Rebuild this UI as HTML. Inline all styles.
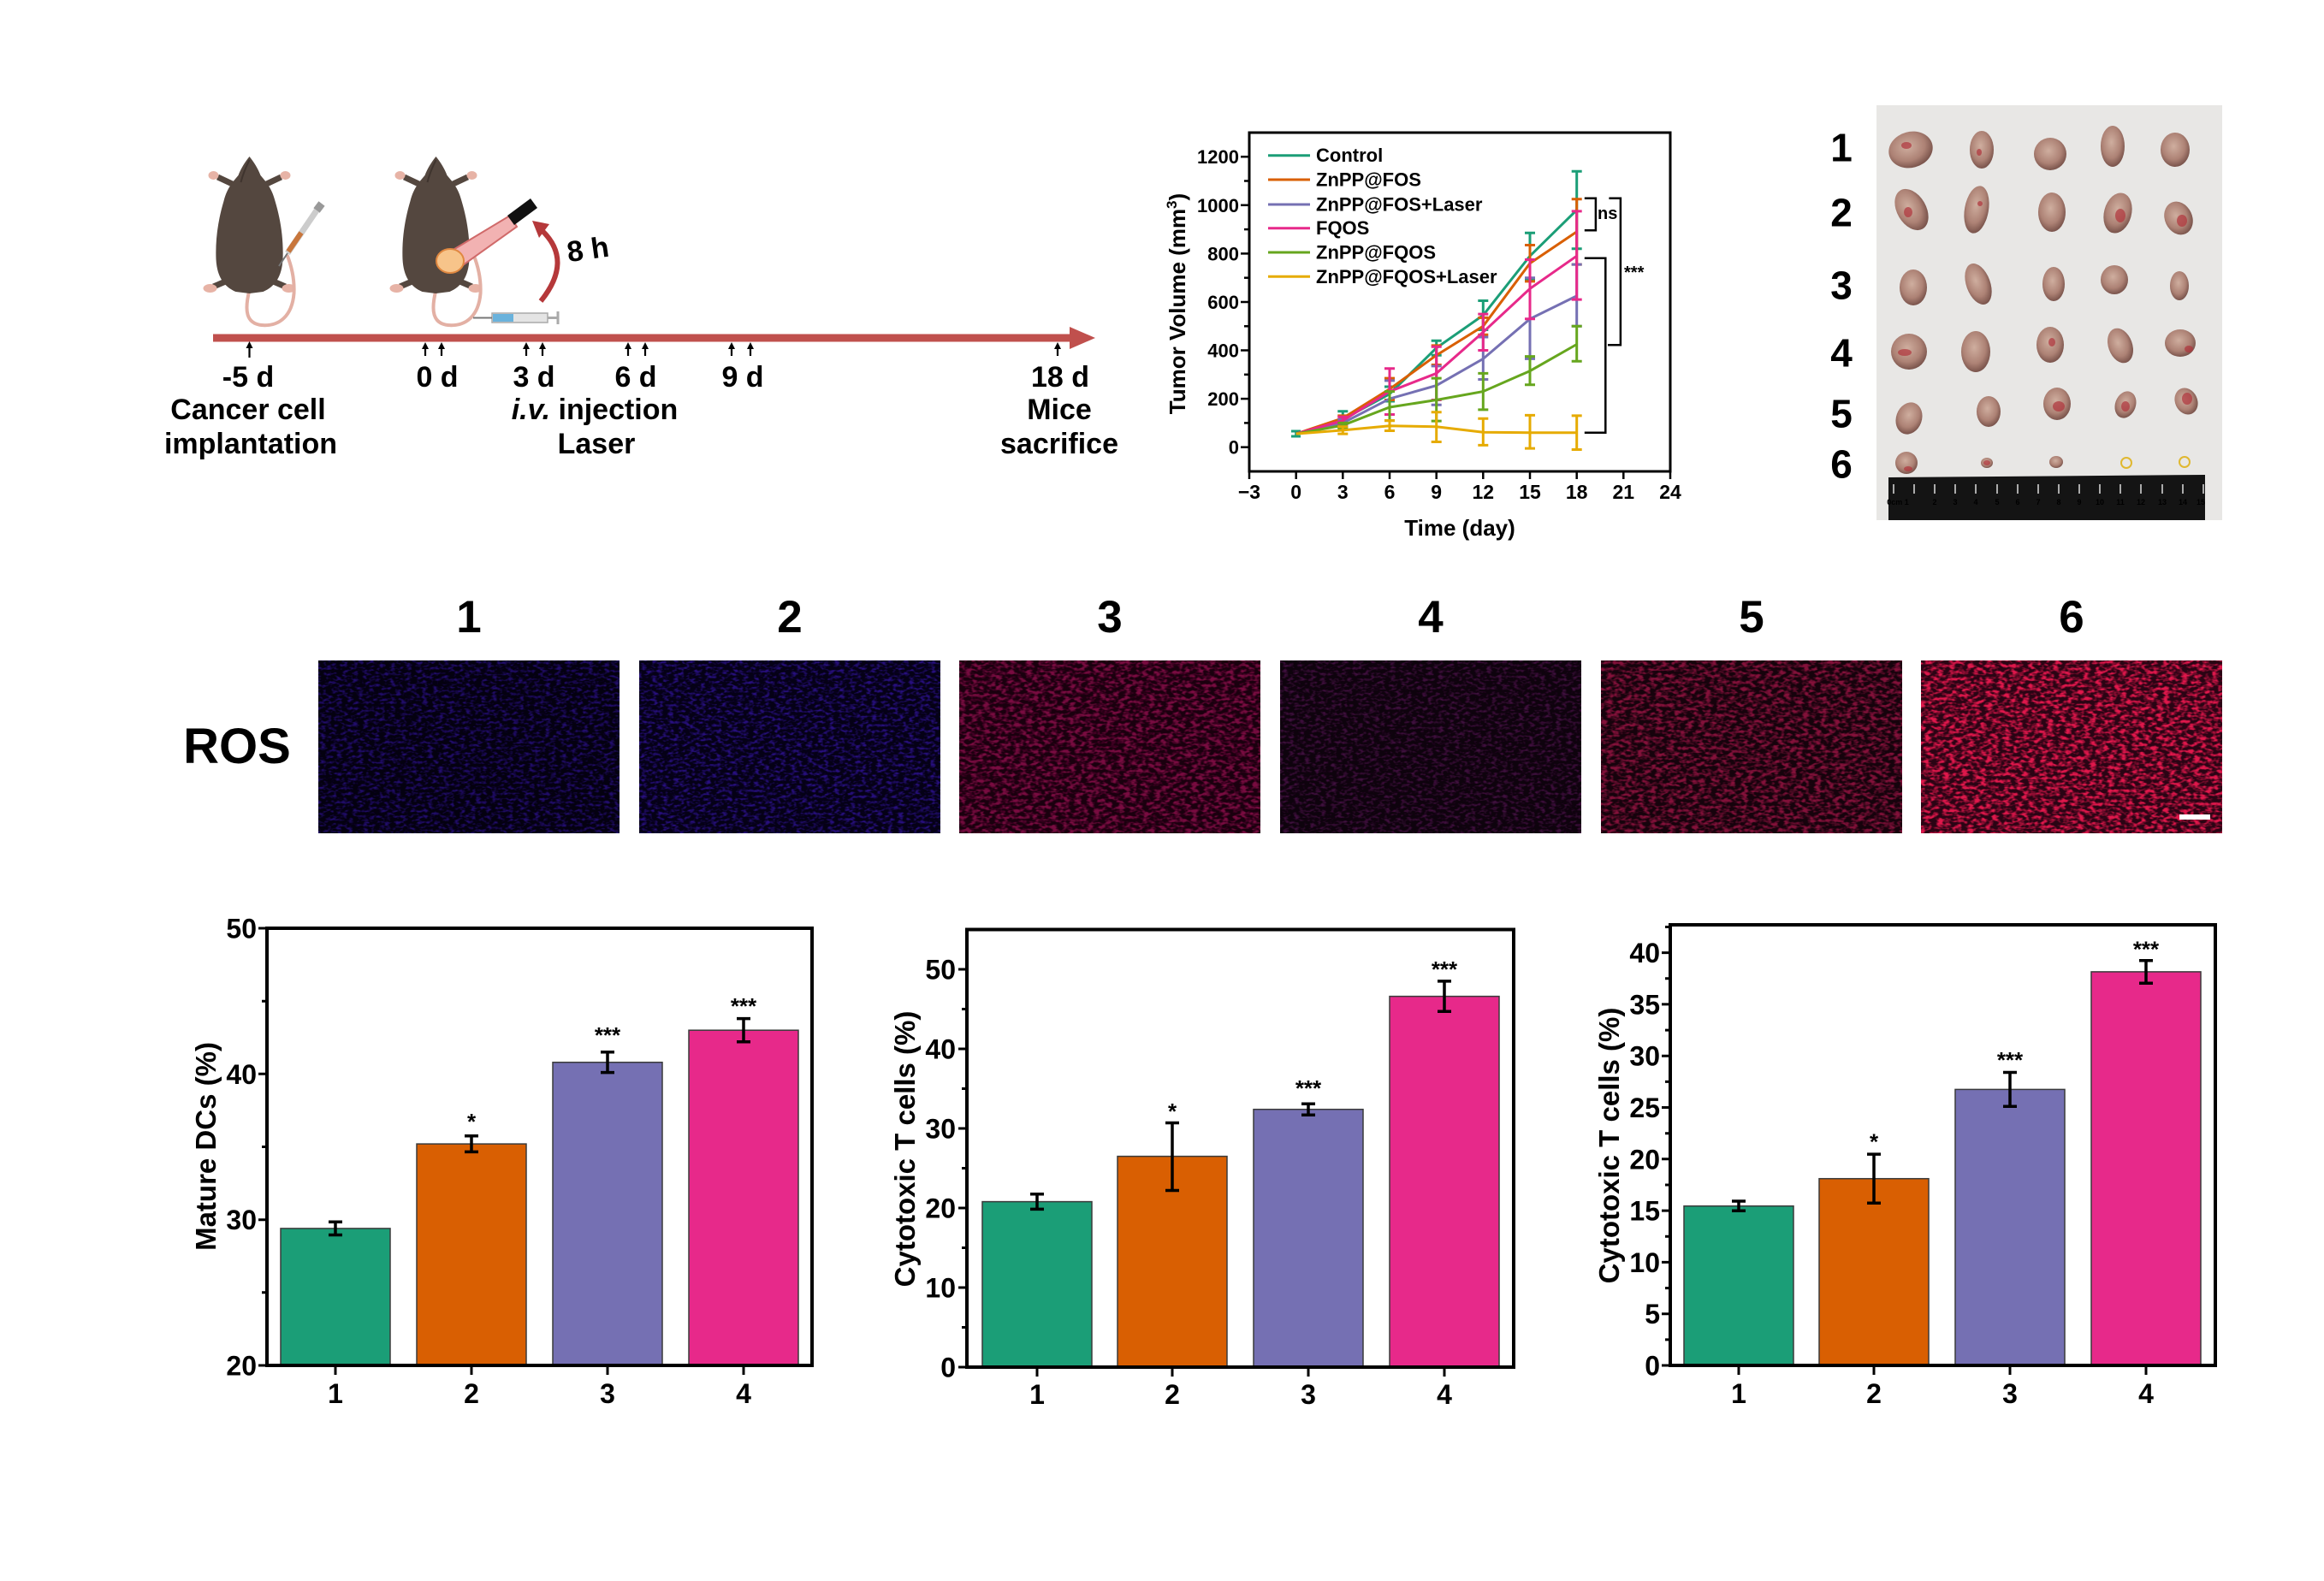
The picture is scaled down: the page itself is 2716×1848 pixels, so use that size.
<!DOCTYPE html>
<html><head><meta charset="utf-8"><style>
html,body{margin:0;padding:0;background:#fff;}
svg{display:block;}
text{font-family:"Liberation Sans",Arial,sans-serif;font-weight:bold;fill:#000;}
</style></head><body>
<svg width="2716" height="1848" viewBox="0 0 2716 1848" xmlns="http://www.w3.org/2000/svg">
<defs>
<filter id="sp" x="0" y="0" width="100%" height="100%">
<feTurbulence type="fractalNoise" baseFrequency="0.16 0.3" numOctaves="2" seed="7" result="t"/>
<feColorMatrix in="t" type="matrix" values="0 0 0 0 1 0 0 0 0 1 0 0 0 0 1 0 0 0 3.2 -1.45" result="a"/>
<feComposite in="SourceGraphic" in2="a" operator="in"/>
</filter>
<filter id="sp2" x="0" y="0" width="100%" height="100%">
<feTurbulence type="fractalNoise" baseFrequency="0.14 0.26" numOctaves="2" seed="11" result="t"/>
<feColorMatrix in="t" type="matrix" values="0 0 0 0 1 0 0 0 0 1 0 0 0 0 1 0 0 0 3.4 -1.4" result="a"/>
<feComposite in="SourceGraphic" in2="a" operator="in"/>
</filter>
<radialGradient id="tg" cx="45%" cy="40%" r="65%">
<stop offset="0" stop-color="#cfae9f"/><stop offset="0.6" stop-color="#ad8275"/><stop offset="1" stop-color="#6e4942"/>
</radialGradient>
<g id="mouse">
<path d="M-20,32 L-37,24 M20,32 L37,24 M-28,146 L-42,152 M28,146 L42,152" stroke="#54473f" stroke-width="7" fill="none"/>
<ellipse cx="-42" cy="22" rx="6" ry="5" fill="#e7b3a6"/>
<ellipse cx="42" cy="22" rx="6" ry="5" fill="#e7b3a6"/>
<ellipse cx="-46" cy="154" rx="8" ry="5" fill="#e7b3a6"/>
<ellipse cx="46" cy="154" rx="8" ry="5" fill="#e7b3a6"/>
<path d="M0,156 C-6,180 -4,195 14,197 C36,199 50,185 52,160 C53,140 48,125 44,115" stroke="#e3b0a4" stroke-width="4" fill="none"/>
<path d="M0,0 C-5,6 -10,14 -13,22 C-18,28 -26,36 -30,52 C-36,72 -40,95 -39,120 C-38,140 -30,152 -16,158 L0,160 L16,158 C30,152 38,140 39,120 C40,95 36,72 30,52 C26,36 18,28 13,22 C10,14 5,6 0,0 Z" fill="#54473f"/>
<path d="M0,4 C-4,12 -8,22 -10,30" stroke="#3f342e" stroke-width="2" fill="none"/>
</g>
</defs>
<rect width="2716" height="1848" fill="#fff"/>

<!-- ===== Timeline ===== -->
<use href="#mouse" x="291.5" y="183"/>
<use href="#mouse" x="509.5" y="183"/>
<line x1="376" y1="238" x2="370" y2="246" stroke="#999" stroke-width="9"/>
<line x1="370" y1="246" x2="336" y2="296" stroke="#ccc" stroke-width="7"/>
<line x1="352" y1="272" x2="337" y2="294" stroke="#c8763c" stroke-width="6"/>
<line x1="336" y1="296" x2="326" y2="311" stroke="#777" stroke-width="2"/>
<polygon points="596,252 604,265 534,315 518,299" fill="#f2b2b2" stroke="#d06a6a" stroke-width="2"/>
<polygon points="593,252 620,232 628,243 601,263" fill="#111"/>
<ellipse cx="526" cy="305" rx="16" ry="14" fill="#f7c48a" stroke="#e08840" stroke-width="2"/>
<path d="M632,352 Q670,305 634,270" stroke="#b5383a" stroke-width="6" fill="none"/>
<polygon points="622,258 642,262 630,278" fill="#b5383a"/>
<text x="687" y="303" font-size="34" text-anchor="middle" transform="rotate(-8 687 291)">8 h</text>
<rect x="575" y="366" width="65" height="11" fill="#e4e4e4" stroke="#aaa" stroke-width="1.5"/>
<rect x="576" y="367" width="24" height="9" fill="#6ab2dc"/>
<line x1="575" y1="371.5" x2="553" y2="371.5" stroke="#777" stroke-width="2"/>
<line x1="640" y1="371.5" x2="652" y2="371.5" stroke="#aaa" stroke-width="3"/>
<line x1="652" y1="364" x2="652" y2="379" stroke="#aaa" stroke-width="3"/>
<line x1="249" y1="395" x2="1254" y2="395" stroke="#c0504d" stroke-width="9"/>
<polygon points="1250,382 1280,395 1250,408" fill="#c0504d"/>
<g stroke="#000" stroke-width="2.2">
<line x1="291.5" y1="418" x2="291.5" y2="405"/>
<line x1="497" y1="416" x2="497" y2="406"/><line x1="516" y1="416" x2="516" y2="406"/>
<line x1="615" y1="416" x2="615" y2="406"/><line x1="634" y1="416" x2="634" y2="406"/>
<line x1="734" y1="416" x2="734" y2="406"/><line x1="754" y1="416" x2="754" y2="406"/>
<line x1="855" y1="416" x2="855" y2="406"/><line x1="877" y1="416" x2="877" y2="406"/>
<line x1="1236" y1="416" x2="1236" y2="406"/>
</g>
<g fill="#000">
<polygon points="287.5,407 291.5,399 295.5,407"/>
<polygon points="493,408 497,400 501,408"/><polygon points="512,408 516,400 520,408"/>
<polygon points="611,408 615,400 619,408"/><polygon points="630,408 634,400 638,408"/>
<polygon points="730,408 734,400 738,408"/><polygon points="750,408 754,400 758,408"/>
<polygon points="851,408 855,400 859,408"/><polygon points="873,408 877,400 881,408"/>
<polygon points="1232,408 1236,400 1240,408"/>
</g>
<g font-size="34" text-anchor="middle">
<text x="290" y="452">-5 d</text>
<text x="511" y="452">0 d</text>
<text x="624" y="452">3 d</text>
<text x="743" y="452">6 d</text>
<text x="868" y="452">9 d</text>
<text x="1239" y="452">18 d</text>
<text x="290" y="490">Cancer cell</text>
<text x="293" y="530">implantation</text>
<text x="695" y="490"><tspan font-style="italic">i.v.</tspan> injection</text>
<text x="697" y="530">Laser</text>
<text x="1238" y="490">Mice</text>
<text x="1238" y="530">sacrifice</text>
</g>

<!-- ===== Line chart ===== -->
<rect x="1460" y="155" width="492" height="396" fill="none" stroke="#000" stroke-width="3"/>
<g stroke="#000" stroke-width="2.5">
<line x1="1450" y1="522.7" x2="1460" y2="522.7"/><line x1="1450" y1="466.1" x2="1460" y2="466.1"/>
<line x1="1450" y1="409.5" x2="1460" y2="409.5"/><line x1="1450" y1="353" x2="1460" y2="353"/>
<line x1="1450" y1="296.4" x2="1460" y2="296.4"/><line x1="1450" y1="239.8" x2="1460" y2="239.8"/>
<line x1="1450" y1="183.2" x2="1460" y2="183.2"/>
<line x1="1454" y1="494.4" x2="1460" y2="494.4"/><line x1="1454" y1="437.8" x2="1460" y2="437.8"/>
<line x1="1454" y1="381.3" x2="1460" y2="381.3"/><line x1="1454" y1="324.7" x2="1460" y2="324.7"/>
<line x1="1454" y1="268.1" x2="1460" y2="268.1"/><line x1="1454" y1="211.5" x2="1460" y2="211.5"/>
<line x1="1460" y1="551" x2="1460" y2="560"/><line x1="1514.7" y1="551" x2="1514.7" y2="560"/>
<line x1="1569.3" y1="551" x2="1569.3" y2="560"/><line x1="1624" y1="551" x2="1624" y2="560"/>
<line x1="1678.7" y1="551" x2="1678.7" y2="560"/><line x1="1733.3" y1="551" x2="1733.3" y2="560"/>
<line x1="1788" y1="551" x2="1788" y2="560"/><line x1="1842.7" y1="551" x2="1842.7" y2="560"/>
<line x1="1897.3" y1="551" x2="1897.3" y2="560"/><line x1="1952" y1="551" x2="1952" y2="560"/>
</g>
<g font-size="22" text-anchor="end">
<text x="1448" y="191.2">1200</text><text x="1448" y="247.8">1000</text>
<text x="1448" y="304.4">800</text><text x="1448" y="361">600</text>
<text x="1448" y="417.5">400</text><text x="1448" y="474.1">200</text>
<text x="1448" y="530.7">0</text>
</g>
<g font-size="23" text-anchor="middle">
<text x="1460" y="583">−3</text><text x="1514.7" y="583">0</text><text x="1569.3" y="583">3</text>
<text x="1624" y="583">6</text><text x="1678.7" y="583">9</text><text x="1733.3" y="583">12</text>
<text x="1788" y="583">15</text><text x="1842.7" y="583">18</text><text x="1897.3" y="583">21</text>
<text x="1952" y="583">24</text>
</g>
<text x="1706" y="626" font-size="26" text-anchor="middle">Time (day)</text>
<text transform="translate(1385,355) rotate(-90)" font-size="26" text-anchor="middle">Tumor Volume (mm<tspan font-size="17" dy="-10">3</tspan><tspan dy="10">)</tspan></text>

<g fill="none" stroke-width="3">
<g stroke="#1b9e77">
<polyline points="1514.7,507.1 1569.3,490.2 1624,460.5 1678.7,406.7 1733.3,368.5 1788,299.2 1842.7,245.5"/>
<path d="M1514.7,504V510M1509,504H1520M1509,510H1520 M1569.3,480.8V499.5M1563.3,480.8H1575.3M1563.3,499.5H1575.3 M1624,452V469M1618,452H1630M1618,469H1630 M1678.7,398.2V415.2M1672.7,398.2H1684.7M1672.7,415.2H1684.7 M1733.3,351.5V385.5M1727.3,351.5H1739.3M1727.3,385.5H1739.3 M1788,272.3V326.1M1782,272.3H1794M1782,326.1H1794 M1842.7,200.2V290.7M1836.7,200.2H1848.7M1836.7,290.7H1848.7"/>
</g>
<g stroke="#d95f02">
<polyline points="1514.7,507.1 1569.3,488.8 1624,454.8 1678.7,415.2 1733.3,381.3 1788,307.7 1842.7,270.9"/>
<path d="M1569.3,485.9V491.6M1563.3,485.9H1575.3M1563.3,491.6H1575.3 M1624,442.1V467.5M1618,442.1H1630M1618,467.5H1630 M1678.7,403.9V426.5M1672.7,403.9H1684.7M1672.7,426.5H1684.7 M1733.3,371.4V391.2M1727.3,371.4H1739.3M1727.3,391.2H1739.3 M1788,286.5V328.9M1782,286.5H1794M1782,328.9H1794 M1842.7,232.7V309.1M1836.7,232.7H1848.7M1836.7,309.1H1848.7"/>
</g>
<g stroke="#7570b3">
<polyline points="1514.7,507.1 1569.3,494.4 1624,466.1 1678.7,450.6 1733.3,419.4 1788,372.8 1842.7,345.9"/>
<path d="M1569.3,490.2V497.8M1563.3,490.2H1575.3M1563.3,497.8H1575.3 M1624,444.9V484.5M1618,444.9H1630M1618,484.5H1630 M1678.7,427.9V473.2M1672.7,427.9H1684.7M1672.7,473.2H1684.7 M1733.3,394V443.5M1727.3,394H1739.3M1727.3,443.5H1739.3 M1788,324.7V419.4M1782,324.7H1794M1782,419.4H1794 M1842.7,309.1V381.3M1836.7,309.1H1848.7M1836.7,381.3H1848.7"/>
</g>
<g stroke="#e7298a">
<polyline points="1514.7,507.1 1569.3,491.6 1624,457.6 1678.7,436.4 1733.3,388.3 1788,337.4 1842.7,299.2"/>
<path d="M1569.3,487.3V495.8M1563.3,487.3H1575.3M1563.3,495.8H1575.3 M1624,430.8V484.5M1618,430.8H1630M1618,484.5H1630 M1678.7,405.3V467.5M1672.7,405.3H1684.7M1672.7,467.5H1684.7 M1733.3,367.1V409.5M1727.3,367.1H1739.3M1727.3,409.5H1739.3 M1788,303.5V372.8M1782,303.5H1794M1782,372.8H1794 M1842.7,246.9V350.1M1836.7,246.9H1848.7M1836.7,350.1H1848.7"/>
</g>
<g stroke="#66a61e">
<polyline points="1514.7,507.1 1569.3,497.2 1624,476 1678.7,467.5 1733.3,457.6 1788,433.6 1842.7,402.5"/>
<path d="M1569.3,494.4V500.6M1563.3,494.4H1575.3M1563.3,500.6H1575.3 M1624,457.6V491.6M1618,457.6H1630M1618,491.6H1630 M1678.7,442.1V492.1M1672.7,442.1H1684.7M1672.7,492.1H1684.7 M1733.3,436.4V478.9M1727.3,436.4H1739.3M1727.3,478.9H1739.3 M1788,416.6V449.7M1782,416.6H1794M1782,449.7H1794 M1842.7,381.3V422.3M1836.7,381.3H1848.7M1836.7,422.3H1848.7"/>
</g>
<g stroke="#e6ab02">
<polyline points="1514.7,507.1 1569.3,502.9 1624,497.8 1678.7,498.7 1733.3,505.2 1788,505.7 1842.7,505.7"/>
<path d="M1569.3,498.7V507.1M1563.3,498.7H1575.3M1563.3,507.1H1575.3 M1624,491.6V503.5M1618,491.6H1630M1618,503.5H1630 M1678.7,481.7V516.5M1672.7,481.7H1684.7M1672.7,516.5H1684.7 M1733.3,489.3V520.4M1727.3,489.3H1739.3M1727.3,520.4H1739.3 M1788,485.4V524.1M1782,485.4H1794M1782,524.1H1794 M1842.7,485.9V525.5M1836.7,485.9H1848.7M1836.7,525.5H1848.7"/>
</g>
</g>
<g stroke-width="3">
<line x1="1482" y1="181.7" x2="1531" y2="181.7" stroke="#1b9e77"/>
<line x1="1482" y1="210" x2="1531" y2="210" stroke="#d95f02"/>
<line x1="1482" y1="239" x2="1531" y2="239" stroke="#7570b3"/>
<line x1="1482" y1="266.7" x2="1531" y2="266.7" stroke="#e7298a"/>
<line x1="1482" y1="295" x2="1531" y2="295" stroke="#66a61e"/>
<line x1="1482" y1="323.3" x2="1531" y2="323.3" stroke="#e6ab02"/>
</g>
<g font-size="22">
<text x="1538" y="189.2">Control</text>
<text x="1538" y="217.5">ZnPP@FOS</text>
<text x="1538" y="246.5">ZnPP@FOS+Laser</text>
<text x="1538" y="274.2">FQOS</text>
<text x="1538" y="302.5">ZnPP@FQOS</text>
<text x="1538" y="330.8">ZnPP@FQOS+Laser</text>
</g>
<g fill="none" stroke="#000" stroke-width="2.5">
<polyline points="1851.8,231.7 1864.9,231.7 1864.9,269.3 1851.8,269.3"/>
<polyline points="1880.4,231.7 1893.9,231.7 1893.9,403.3 1879,403.3"/>
<polyline points="1851.8,301.7 1876.3,301.7 1876.3,505.7 1851.8,505.7"/>
</g>
<text x="1867" y="256" font-size="20">ns</text>
<text x="1898" y="325" font-size="20">***</text>

<!-- ===== Tumor photo ===== -->
<rect x="2193" y="123" width="404" height="485" fill="#e8e7e5"/>
<g fill="url(#tg)">
<ellipse cx="2233" cy="175" rx="26" ry="21" transform="rotate(-15 2233 175)"/>
<ellipse cx="2316" cy="175" rx="14" ry="22"/>
<ellipse cx="2396" cy="180" rx="19" ry="19"/>
<ellipse cx="2469" cy="171" rx="14" ry="24"/>
<ellipse cx="2542" cy="175" rx="17" ry="20"/>
<ellipse cx="2234" cy="245" rx="17" ry="26" transform="rotate(-30 2234 245)"/>
<ellipse cx="2310" cy="245" rx="14" ry="28" transform="rotate(10 2310 245)"/>
<ellipse cx="2398" cy="248" rx="16" ry="23"/>
<ellipse cx="2475" cy="249" rx="16" ry="24" transform="rotate(15 2475 249)"/>
<ellipse cx="2546" cy="255" rx="16" ry="20" transform="rotate(-25 2546 255)"/>
<ellipse cx="2236" cy="336" rx="16" ry="21"/>
<ellipse cx="2312" cy="332" rx="14" ry="25" transform="rotate(-20 2312 332)"/>
<ellipse cx="2400" cy="332" rx="13" ry="20"/>
<ellipse cx="2471" cy="327" rx="16" ry="17"/>
<ellipse cx="2547" cy="334" rx="11" ry="17"/>
<ellipse cx="2231" cy="411" rx="21" ry="21"/>
<ellipse cx="2309" cy="411" rx="17" ry="24"/>
<ellipse cx="2396" cy="403" rx="16" ry="21"/>
<ellipse cx="2478" cy="404" rx="14" ry="21" transform="rotate(-20 2478 404)"/>
<ellipse cx="2548" cy="401" rx="18" ry="16"/>
<ellipse cx="2231" cy="489" rx="15" ry="19" transform="rotate(20 2231 489)"/>
<ellipse cx="2324" cy="481" rx="14" ry="18"/>
<ellipse cx="2404" cy="472" rx="16" ry="19"/>
<ellipse cx="2484" cy="473" rx="12" ry="16" transform="rotate(20 2484 473)"/>
<ellipse cx="2555" cy="469" rx="13" ry="16" transform="rotate(-25 2555 469)"/>
<ellipse cx="2228" cy="541" rx="13" ry="13"/>
<ellipse cx="2322" cy="541" rx="7" ry="6"/>
<ellipse cx="2403" cy="540" rx="8" ry="7"/>
</g>
<g fill="#b0343c" opacity="0.7">
<ellipse cx="2228" cy="170" rx="6" ry="4"/><ellipse cx="2313" cy="178" rx="3" ry="4"/>
<ellipse cx="2230" cy="248" rx="5" ry="6"/><ellipse cx="2314" cy="238" rx="3" ry="3"/>
<ellipse cx="2478" cy="252" rx="6" ry="8"/><ellipse cx="2550" cy="258" rx="6" ry="7"/>
<ellipse cx="2226" cy="412" rx="8" ry="4"/><ellipse cx="2398" cy="400" rx="4" ry="5"/>
<ellipse cx="2558" cy="408" rx="5" ry="4"/><ellipse cx="2406" cy="475" rx="7" ry="6"/>
<ellipse cx="2556" cy="466" rx="6" ry="7"/><ellipse cx="2484" cy="475" rx="5" ry="6"/>
<ellipse cx="2230" cy="548" rx="5" ry="3"/><ellipse cx="2322" cy="541" rx="4" ry="3"/>
</g>
<circle cx="2485" cy="541" r="6" fill="none" stroke="#e0b830" stroke-width="2"/>
<circle cx="2553" cy="540" r="6" fill="none" stroke="#e0b830" stroke-width="2"/>
<polygon points="2207,558 2577,555 2577,608 2207,608" fill="#141414"/>
<g stroke="#ddd" stroke-width="1.5">
<line x1="2213" y1="566" x2="2213" y2="577"/><line x1="2237" y1="566" x2="2237" y2="577"/>
<line x1="2261" y1="566" x2="2261" y2="577"/><line x1="2285" y1="566" x2="2285" y2="577"/>
<line x1="2309" y1="566" x2="2309" y2="577"/><line x1="2334" y1="566" x2="2334" y2="577"/>
<line x1="2358" y1="566" x2="2358" y2="577"/><line x1="2382" y1="566" x2="2382" y2="577"/>
<line x1="2406" y1="566" x2="2406" y2="577"/><line x1="2430" y1="566" x2="2430" y2="577"/>
<line x1="2454" y1="566" x2="2454" y2="577"/><line x1="2478" y1="566" x2="2478" y2="577"/>
<line x1="2502" y1="566" x2="2502" y2="577"/><line x1="2527" y1="566" x2="2527" y2="577"/>
<line x1="2551" y1="566" x2="2551" y2="577"/><line x1="2575" y1="566" x2="2575" y2="577"/>
</g>
<g font-size="9" text-anchor="middle" style="font-weight:normal">
<text x="2218" y="590" fill="#ddd">0cm 1</text><text x="2261" y="590" fill="#ddd">2</text>
<text x="2285" y="590" fill="#ddd">3</text><text x="2309" y="590" fill="#ddd">4</text>
<text x="2334" y="590" fill="#ddd">5</text><text x="2358" y="590" fill="#ddd">6</text>
<text x="2382" y="590" fill="#ddd">7</text><text x="2406" y="590" fill="#ddd">8</text>
<text x="2430" y="590" fill="#ddd">9</text><text x="2454" y="590" fill="#ddd">10</text>
<text x="2478" y="590" fill="#ddd">11</text><text x="2502" y="590" fill="#ddd">12</text>
<text x="2527" y="590" fill="#ddd">13</text><text x="2551" y="590" fill="#ddd">14</text>
<text x="2572" y="590" fill="#ddd">15</text>
</g>
<g font-size="46" text-anchor="middle">
<text x="2152" y="188.5">1</text><text x="2152" y="264.5">2</text>
<text x="2152" y="349.5">3</text><text x="2152" y="428.5">4</text>
<text x="2152" y="499.5">5</text><text x="2152" y="558.5">6</text>
</g>

<!-- ===== ROS ===== -->
<text x="277" y="892" font-size="58" text-anchor="middle">ROS</text>
<g font-size="53" text-anchor="middle">
<text x="548" y="739">1</text><text x="923" y="739">2</text><text x="1297" y="739">3</text>
<text x="1672" y="739">4</text><text x="2047" y="739">5</text><text x="2421" y="739">6</text>
</g>
<rect x="372" y="772" width="352" height="202" fill="#040110"/>
<rect x="372" y="772" width="352" height="202" fill="#3514a8" opacity="0.6" filter="url(#sp)"/>
<rect x="747" y="772" width="352" height="202" fill="#050116"/>
<rect x="747" y="772" width="352" height="202" fill="#3a18b8" opacity="0.65" filter="url(#sp)"/>
<rect x="1121" y="772" width="352" height="202" fill="#1a000e"/>
<rect x="1121" y="772" width="352" height="202" fill="#8a0c4a" opacity="0.85" filter="url(#sp2)"/>
<rect x="1496" y="772" width="352" height="202" fill="#0e030d"/>
<rect x="1496" y="772" width="352" height="202" fill="#4a1248" opacity="0.8" filter="url(#sp)"/>
<rect x="1871" y="772" width="352" height="202" fill="#16030c"/>
<rect x="1871" y="772" width="352" height="202" fill="#a8154a" opacity="0.75" filter="url(#sp2)"/>
<rect x="2245" y="772" width="352" height="202" fill="#2a0414"/>
<rect x="2245" y="772" width="352" height="202" fill="#ff1a55" opacity="0.85" filter="url(#sp2)"/>
<rect x="2547" y="952" width="36" height="6" fill="#fff"/>

<!-- ===== Bar chart 1 ===== -->
<g stroke="#3a3a3a" stroke-width="1.5">
<rect x="328" y="1435.9" width="128" height="160.1" fill="#1b9e77"/>
<rect x="487" y="1337.1" width="128" height="258.9" fill="#d95f02"/>
<rect x="646" y="1241.7" width="128" height="354.3" fill="#7570b3"/>
<rect x="805" y="1204.2" width="128" height="391.8" fill="#e7298a"/>
</g>
<path d="M392,1428.2V1443.5M384,1428.2H400M384,1443.5H400 M551,1327.7V1346.4M543,1327.7H559M543,1346.4H559 M710,1229.8V1253.6M702,1229.8H718M702,1253.6H718 M869,1190.6V1217.8M861,1190.6H877M861,1217.8H877" stroke="#000" stroke-width="3.5" fill="none"/>
<rect x="312" y="1085" width="637" height="511" fill="none" stroke="#000" stroke-width="4"/>
<path d="M302,1596H312M302,1425.7H312M302,1255.3H312M302,1085H312 M306,1510.8H312M306,1340.5H312M306,1170.2H312 M392,1596V1607M551,1596V1607M710,1596V1607M869,1596V1607" stroke="#000" stroke-width="3"/>
<g font-size="32" text-anchor="end">
<text x="300" y="1096.5">50</text><text x="300" y="1266.8">40</text>
<text x="300" y="1437.2">30</text><text x="300" y="1607.5">20</text>
</g>
<g font-size="32" text-anchor="middle">
<text x="392" y="1640">1</text><text x="551" y="1640">2</text><text x="710" y="1640">3</text><text x="869" y="1640">4</text>
</g>
<g font-size="26" text-anchor="middle">
<text x="551" y="1320">*</text><text x="710" y="1219">***</text><text x="869" y="1185">***</text>
</g>
<text transform="translate(252,1340) rotate(-90)" font-size="33" text-anchor="middle">Mature DCs (%)</text>

<!-- ===== Bar chart 2 ===== -->
<g stroke="#3a3a3a" stroke-width="1.5">
<rect x="1148" y="1404.6" width="128" height="193.4" fill="#1b9e77"/>
<rect x="1306" y="1351.6" width="128" height="246.4" fill="#d95f02"/>
<rect x="1465" y="1296.7" width="128" height="301.3" fill="#7570b3"/>
<rect x="1624" y="1164.6" width="128" height="433.4" fill="#e7298a"/>
</g>
<path d="M1212,1395.7V1413.4M1204,1395.7H1220M1204,1413.4H1220 M1370,1312.5V1391.5M1362,1312.5H1378M1362,1391.5H1378 M1529,1290.2V1303.2M1521,1290.2H1537M1521,1303.2H1537 M1688,1146.9V1182.3M1680,1146.9H1696M1680,1182.3H1696" stroke="#000" stroke-width="3.5" fill="none"/>
<rect x="1130" y="1086.5" width="639" height="511.5" fill="none" stroke="#000" stroke-width="4"/>
<path d="M1120,1598H1130M1120,1505H1130M1120,1412H1130M1120,1319H1130M1120,1226H1130M1120,1133H1130 M1124,1551.5H1130M1124,1458.5H1130M1124,1365.5H1130M1124,1272.5H1130M1124,1179.5H1130 M1212,1598V1609M1370,1598V1609M1529,1598V1609M1688,1598V1609" stroke="#000" stroke-width="3"/>
<g font-size="32" text-anchor="end">
<text x="1117" y="1609.5">0</text><text x="1117" y="1516.5">10</text><text x="1117" y="1423.5">20</text>
<text x="1117" y="1330.5">30</text><text x="1117" y="1237.5">40</text><text x="1117" y="1144.5">50</text>
</g>
<g font-size="32" text-anchor="middle">
<text x="1212" y="1641">1</text><text x="1370" y="1641">2</text><text x="1529" y="1641">3</text><text x="1688" y="1641">4</text>
</g>
<g font-size="26" text-anchor="middle">
<text x="1370" y="1308">*</text><text x="1529" y="1281">***</text><text x="1688" y="1142">***</text>
</g>
<text transform="translate(1069,1343) rotate(-90)" font-size="33" text-anchor="middle">Cytotoxic T cells (%)</text>

<!-- ===== Bar chart 3 ===== -->
<g stroke="#3a3a3a" stroke-width="1.5">
<rect x="1968" y="1409.7" width="128" height="186.3" fill="#1b9e77"/>
<rect x="2126" y="1377.7" width="128" height="218.3" fill="#d95f02"/>
<rect x="2285" y="1273.4" width="128" height="322.6" fill="#7570b3"/>
<rect x="2444" y="1135.9" width="128" height="460.1" fill="#e7298a"/>
</g>
<path d="M2032,1404V1415.3M2024,1404H2040M2024,1415.3H2040 M2190,1349.1V1406.3M2182,1349.1H2198M2182,1406.3H2198 M2349,1253.5V1293.3M2341,1253.5H2357M2341,1293.3H2357 M2508,1122.7V1149.2M2500,1122.7H2516M2500,1149.2H2516" stroke="#000" stroke-width="3.5" fill="none"/>
<rect x="1952" y="1081" width="637" height="515" fill="none" stroke="#000" stroke-width="4"/>
<path d="M1942,1596H1952M1942,1535.7H1952M1942,1475.4H1952M1942,1415.1H1952M1942,1354.8H1952M1942,1294.5H1952M1942,1234.2H1952M1942,1173.9H1952M1942,1113.6H1952 M1946,1565.9H1952M1946,1505.6H1952M1946,1445.3H1952M1946,1385H1952M1946,1324.7H1952M1946,1264.4H1952M1946,1204.1H1952M1946,1143.8H1952M1946,1083.5H1952 M2032,1596V1607M2190,1596V1607M2349,1596V1607M2508,1596V1607" stroke="#000" stroke-width="3"/>
<g font-size="32" text-anchor="end">
<text x="1940" y="1607.5">0</text><text x="1940" y="1547.2">5</text><text x="1940" y="1486.9">10</text>
<text x="1940" y="1426.6">15</text><text x="1940" y="1366.3">20</text><text x="1940" y="1306">25</text>
<text x="1940" y="1245.7">30</text><text x="1940" y="1185.4">35</text><text x="1940" y="1125.1">40</text>
</g>
<g font-size="32" text-anchor="middle">
<text x="2032" y="1640">1</text><text x="2190" y="1640">2</text><text x="2349" y="1640">3</text><text x="2508" y="1640">4</text>
</g>
<g font-size="26" text-anchor="middle">
<text x="2190" y="1343.5">*</text><text x="2349" y="1248">***</text><text x="2508" y="1118.5">***</text>
</g>
<text transform="translate(1892,1339) rotate(-90)" font-size="33" text-anchor="middle">Cytotoxic T cells (%)</text>
</svg>
</body></html>
